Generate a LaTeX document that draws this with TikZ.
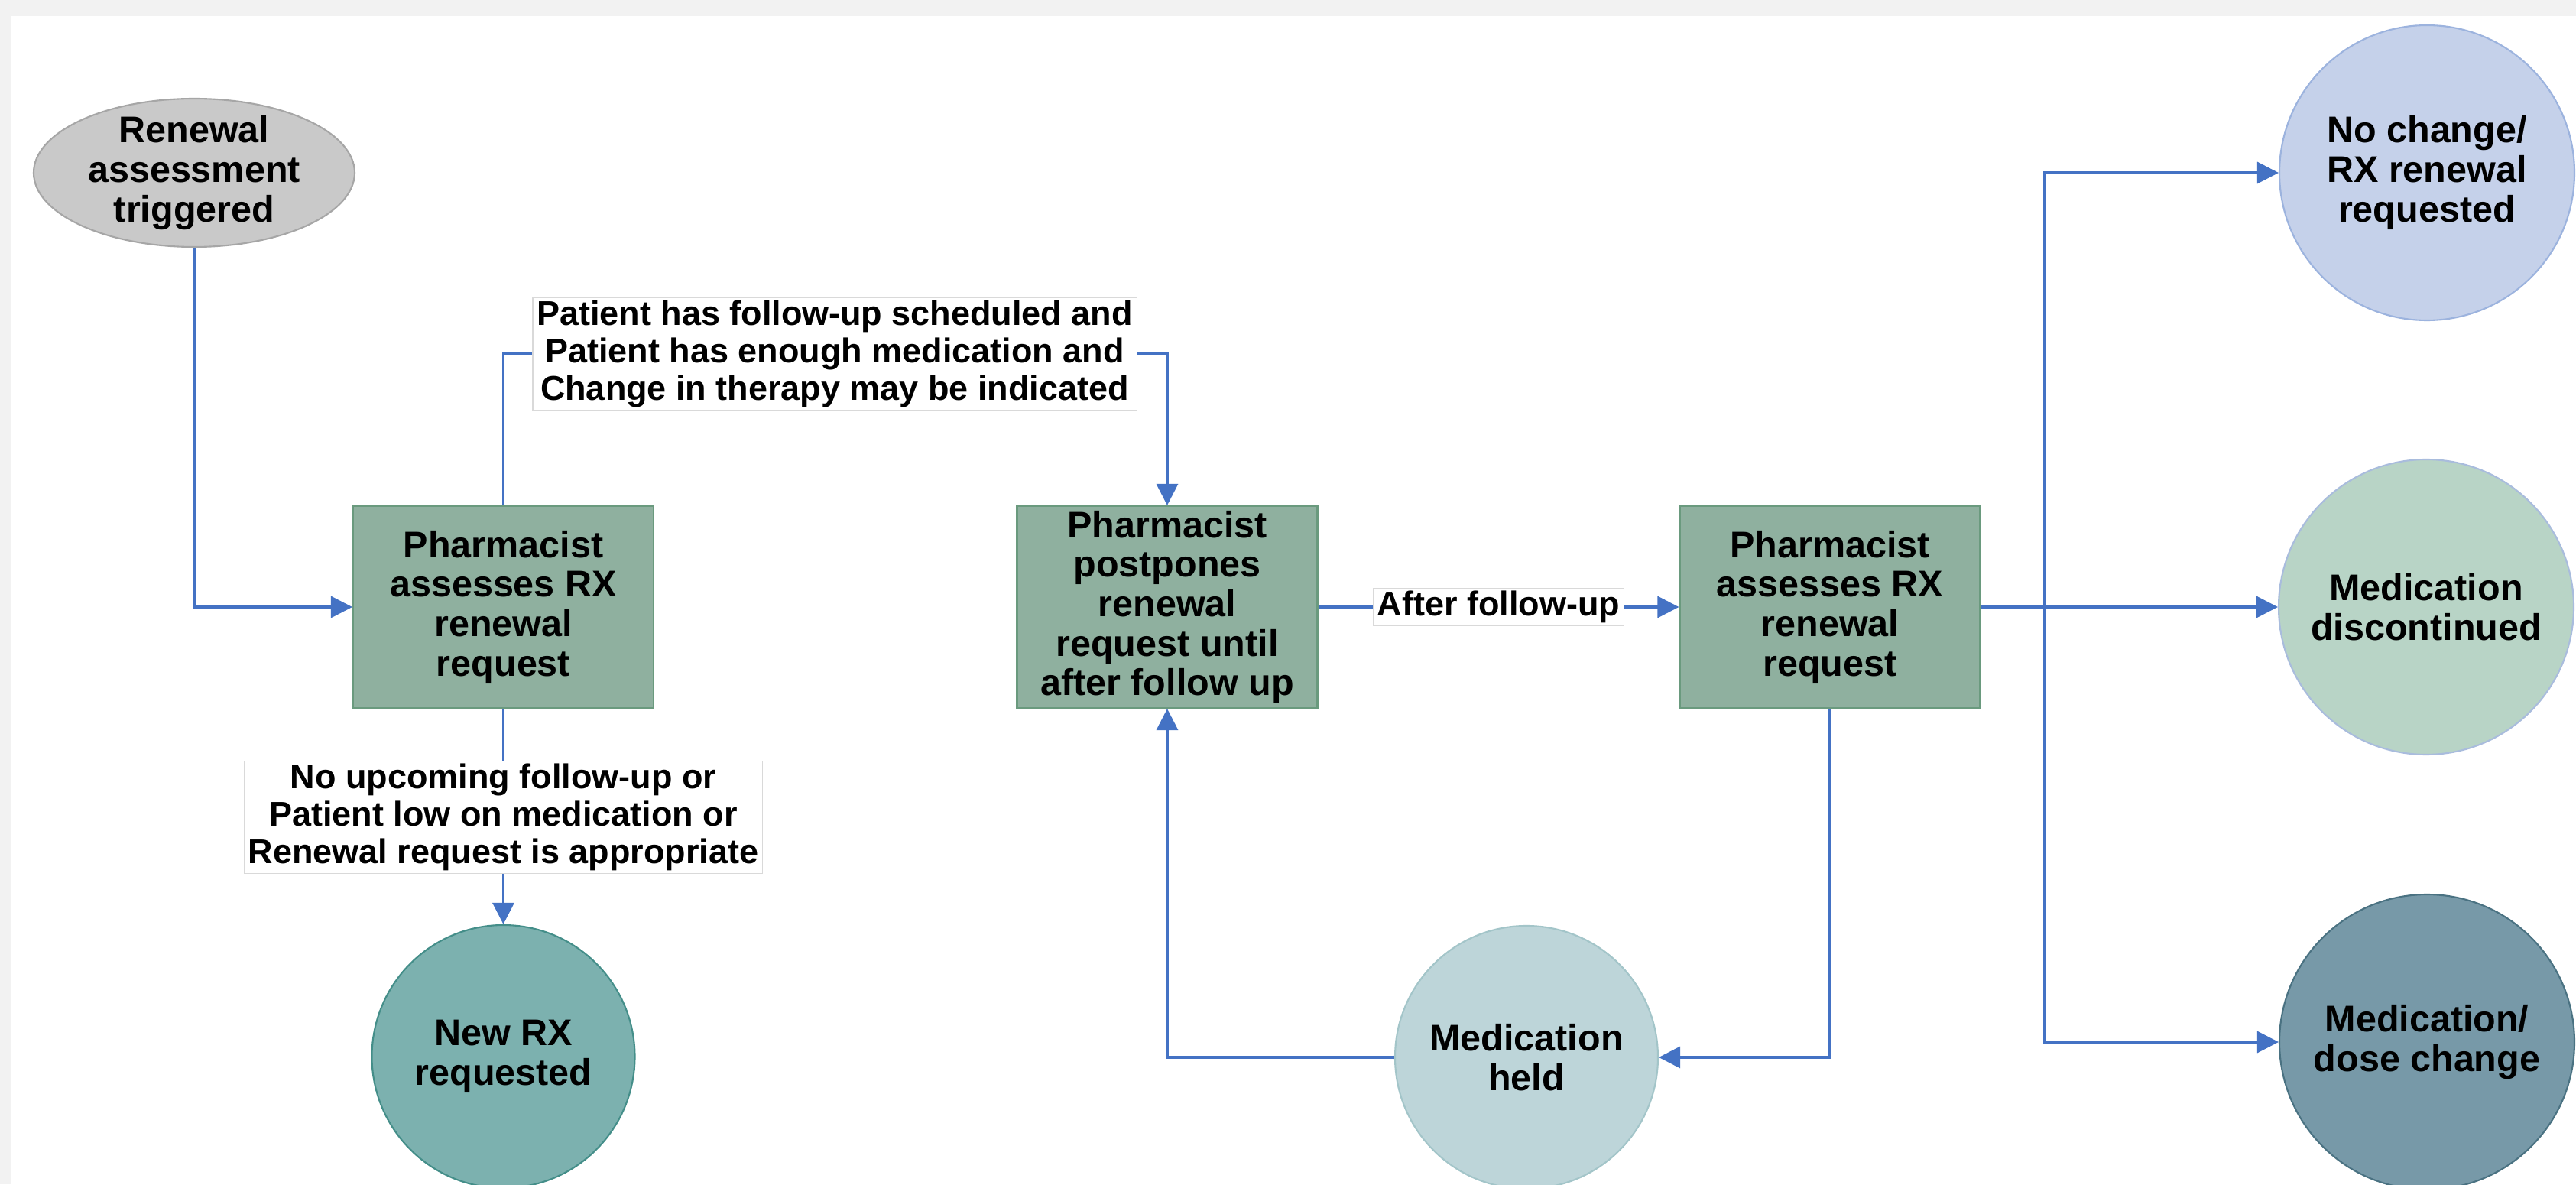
\documentclass[tikz,border=0pt]{standalone}
\usepackage{fontspec}
\setmainfont{Liberation Sans}
\usetikzlibrary{arrows.meta,shapes.geometric}
\definecolor{bggray}{HTML}{F2F2F2}
\definecolor{flowblue}{HTML}{4472C4}
\definecolor{boxfill}{HTML}{8FB09F}
\definecolor{boxline}{HTML}{6A9A7E}
\definecolor{trigfill}{HTML}{C9C9C9}
\definecolor{trigline}{HTML}{A6A6A6}
\definecolor{condline}{HTML}{D9D9D9}
\definecolor{nochgfill}{HTML}{C5D1EA}
\definecolor{nochgline}{HTML}{9CB3DE}
\definecolor{discfill}{HTML}{B8D4C6}
\definecolor{discline}{HTML}{A9BCDD}
\definecolor{dosefill}{HTML}{7799A8}
\definecolor{doseline}{HTML}{4A7282}
\definecolor{newrxfill}{HTML}{7CB1AF}
\definecolor{newrxline}{HTML}{448E89}
\definecolor{heldfill}{HTML}{BDD5D9}
\definecolor{heldline}{HTML}{A3C5C9}

\begin{document}
\begin{tikzpicture}[
    every node/.style={font=\bfseries\fontsize{13.8}{14.7}\selectfont, align=center},
    task/.style={draw=boxline, fill=boxfill, minimum width=3.93cm, minimum height=2.64cm, inner sep=0pt, line width=0.6pt},
    endstate/.style={circle, inner sep=0pt, line width=0.6pt, minimum size=3.86cm},
    cond/.style={draw=condline, fill=white, inner xsep=1.5pt, inner ysep=1pt, line width=0.4pt,
        font=\bfseries\fontsize{12.8}{14}\selectfont},
    link/.style={draw=flowblue, line width=0.9pt},
    flow/.style={link, -{Triangle[length=2.8mm,width=2.8mm]}}]
    \useasboundingbox (0,0) rectangle (33.7,15.49);
    \fill[bggray] (0,0) rectangle (33.7,15.49);
    \fill[white] (0.15,0) rectangle (33.7,15.28);

    \node[ellipse, draw=trigline, fill=trigfill, minimum width=4.2cm, minimum height=1.94cm, inner sep=0pt, line width=0.6pt,
        label={center:Renewal\\assessment\\triggered}] (trig) at (2.54,13.23) {};
    \node[task] (assess) at (6.585,7.55) {Pharmacist\\assesses RX\\renewal\\request};
    \node[task] (postpone) at (15.27,7.55) {Pharmacist\\postpones\\renewal\\request until\\after follow up};
    \node[task] (reassess) at (23.94,7.55) {Pharmacist\\assesses RX\\renewal\\request};
    \node[endstate, draw=nochgline, fill=nochgfill] (nochange) at (31.75,13.23) {No change/\\RX renewal\\requested};
    \node[endstate, draw=discline, fill=discfill] (discont) at (31.74,7.55) {Medication\\discontinued};
    \node[endstate, draw=doseline, fill=dosefill] (dosechg) at (31.75,1.86) {Medication/\\dose change};
    \node[endstate, draw=newrxline, fill=newrxfill, minimum size=3.44cm] (newrx) at (6.585,1.67) {New RX\\requested};
    \node[endstate, draw=heldline, fill=heldfill, minimum size=3.44cm] (held) at (19.97,1.66) {Medication\\held};
    \node[cond] (ifhold) at (10.92,10.86) {Patient has follow-up scheduled and\\Patient has enough medication and\\Change in therapy may be indicated};
    \node[cond] (ifnew) at (6.585,4.80) {No upcoming follow-up or\\Patient low on medication or\\Renewal request is appropriate};
    \coordinate (split) at (26.75,7.55);

    \draw[flow] (trig) |- (assess);
    \draw[link] (assess) |- (ifhold);
    \draw[flow] (ifhold) -| (postpone);
    \draw[link] (assess) -- (ifnew);
    \draw[flow] (ifnew) -- (newrx);
    \draw[flow] (postpone) -- node[cond] (afterfu) {After follow-up} (reassess);
    \draw[link] (reassess) -- (split);
    \draw[flow] (split) |- (nochange);
    \draw[flow] (split) -- (discont);
    \draw[flow] (split) |- (dosechg);
    \draw[flow] (reassess) |- (held);
    \draw[flow] (held) -| (postpone);
\end{tikzpicture}
\end{document}
